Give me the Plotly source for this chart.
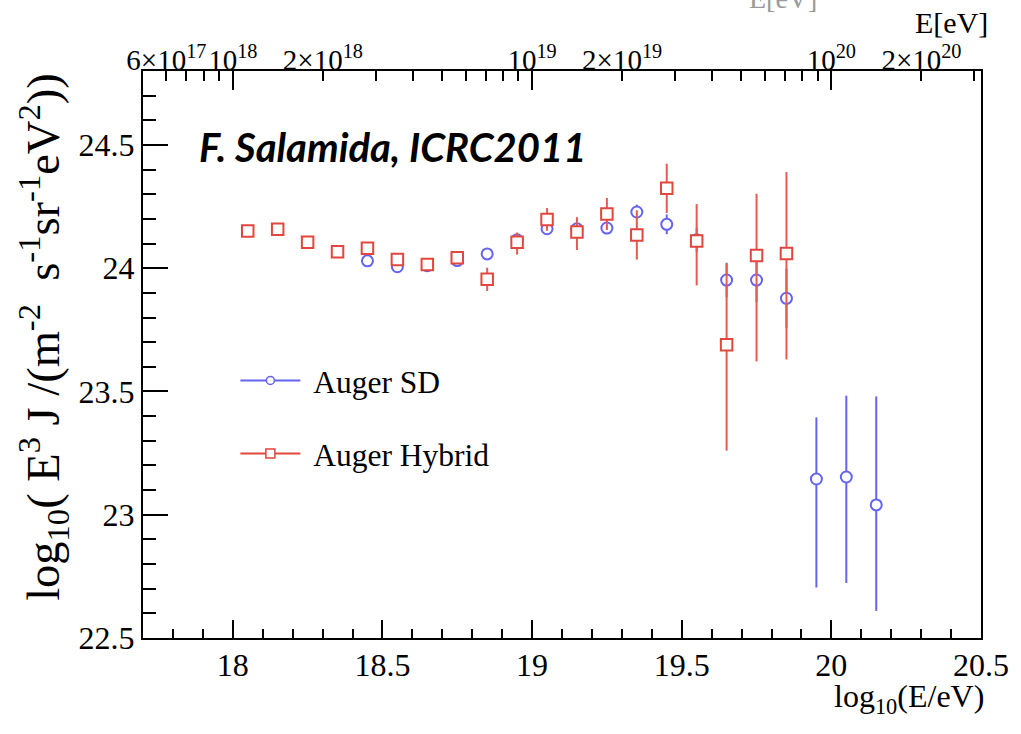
import numpy as np
import plotly.graph_objects as go

# ---------------- data ----------------
sd_x = [18.45, 18.55, 18.65, 18.75, 18.85, 18.95, 19.05, 19.15, 19.25, 19.35,
        19.45, 19.55, 19.65, 19.75, 19.85, 19.95, 20.05, 20.15]
sd_y = [24.030, 24.006, 24.010, 24.031, 24.058, 24.115, 24.160, 24.160, 24.163, 24.228,
        24.178, 24.115, 23.952, 23.952, 23.878, 23.145, 23.153, 23.040]
sd_err_up = [0.010, 0.010, 0.010, 0.010, 0.015, 0.015, 0.020, 0.020, 0.025, 0.030,
             0.040, 0.050, 0.070, 0.090, 0.120, 0.250, 0.330, 0.440]
sd_err_down = [0.010, 0.010, 0.010, 0.010, 0.015, 0.015, 0.020, 0.020, 0.025, 0.030,
               0.040, 0.050, 0.070, 0.090, 0.120, 0.440, 0.430, 0.430]

hyb_x = [18.05, 18.15, 18.25, 18.35, 18.45, 18.55, 18.65, 18.75, 18.85, 18.95,
         19.05, 19.15, 19.25, 19.35, 19.45, 19.55, 19.65, 19.75, 19.85]
hyb_y = [24.151, 24.158, 24.105, 24.067, 24.081, 24.035, 24.015, 24.042, 23.955, 24.105,
         24.198, 24.147, 24.220, 24.135, 24.324, 24.110, 23.690, 24.052, 24.060]
hyb_err_up = [0.010, 0.010, 0.010, 0.010, 0.012, 0.015, 0.020, 0.025, 0.047, 0.040,
              0.046, 0.060, 0.065, 0.100, 0.100, 0.150, 0.330, 0.250, 0.330]
hyb_err_down = [0.010, 0.010, 0.010, 0.010, 0.012, 0.015, 0.020, 0.025, 0.047, 0.050,
                0.046, 0.073, 0.065, 0.100, 0.100, 0.180, 0.430, 0.430, 0.430]

top_major_E = [1e18, 1e19, 1e20]
top_major_text = ["10<sup>18</sup>", "10<sup>19</sup>", "10<sup>20</sup>"]
top_mid_E = [6e17, 2e18, 2e19, 2e20]
top_mid_text = ["6×10<sup>17</sup>", "2×10<sup>18</sup>", "2×10<sup>19</sup>", "2×10<sup>20</sup>"]
top_minor_E = [7e17, 8e17, 9e17,
               3e18, 4e18, 5e18, 6e18, 7e18, 8e18, 9e18,
               3e19, 4e19, 5e19, 6e19, 7e19, 8e19, 9e19,
               3e20]

x_ticks = [18, 18.5, 19, 19.5, 20, 20.5]
y_ticks = [22.5, 23, 23.5, 24, 24.5]

# ---------------- style ----------------
RED = "#e2463c"
RED_BAR = "#e85a50"
BLUE = "#6464f0"
SERIF = "Liberation Serif"

fig = go.Figure()

fig.add_trace(go.Scatter(
    x=sd_x, y=sd_y, mode="markers", showlegend=False,
    marker=dict(symbol="circle", size=11, color="white", line=dict(color=BLUE, width=2)),
    error_y=dict(type="data", array=sd_err_up, arrayminus=sd_err_down,
                 color=BLUE, thickness=2, width=0),
))
fig.add_trace(go.Scatter(
    x=hyb_x, y=hyb_y, mode="markers", showlegend=False,
    marker=dict(symbol="square", size=11.5, color="white", line=dict(color=RED, width=2)),
    error_y=dict(type="data", array=hyb_err_up, arrayminus=hyb_err_down,
                 color=RED_BAR, thickness=2, width=0),
))

# legend entries (line + marker, ROOT style)
fig.add_trace(go.Scatter(
    x=[None], y=[None], mode="lines+markers", name="\u00a0Auger SD", legendgroup="a",
    line=dict(color=BLUE, width=2),
    marker=dict(symbol="circle", size=8, color="white", line=dict(color=BLUE, width=1.5)),
))
fig.add_trace(go.Scatter(
    x=[None], y=[None], mode="lines+markers", name="\u00a0Auger Hybrid", legendgroup="b",
    line=dict(color=RED, width=2),
    marker=dict(symbol="square", size=9, color="white", line=dict(color=RED, width=1.5)),
))

# invisible traces to activate the top axes
fig.add_trace(go.Scatter(x=[None], y=[None], xaxis="x2", showlegend=False, hoverinfo="skip"))
fig.add_trace(go.Scatter(x=[None], y=[None], xaxis="x3", showlegend=False, hoverinfo="skip"))

XR = [17.7, 20.5]
YR = [22.5, 24.8]

fig.update_layout(
    width=1021, height=734,
    margin=dict(l=143, r=33, t=71, b=96),
    paper_bgcolor="white", plot_bgcolor="white",
    font=dict(family=SERIF, color="black"),
    xaxis=dict(
        range=XR, tickmode="array", tickvals=x_ticks,
        ticktext=[f"{v:g}" for v in x_ticks],
        ticks="inside", ticklen=18, tickwidth=1.5, tickcolor="black",
        minor=dict(dtick=0.1, tick0=0, ticks="inside", ticklen=9, tickwidth=1.5, tickcolor="black"),
        showline=True, linecolor="black", linewidth=2, mirror=True,
        showgrid=False, zeroline=False,
        tickfont=dict(family=SERIF, size=32, color="black"),
        ticklabelstandoff=-2,
    ),
    yaxis=dict(
        range=YR, tickmode="array", tickvals=y_ticks,
        ticktext=[f"{v:g}" for v in y_ticks],
        ticks="inside", ticklen=25, tickwidth=1.5, tickcolor="black",
        minor=dict(dtick=0.1, tick0=0, ticks="inside", ticklen=13, tickwidth=1.5, tickcolor="black"),
        showline=True, linecolor="black", linewidth=2, mirror=True,
        showgrid=False, zeroline=False,
        tickfont=dict(family=SERIF, size=32, color="black"),
    ),
    xaxis2=dict(
        overlaying="x", side="top", anchor="y", range=XR,
        tickmode="array", tickvals=list(np.log10(top_major_E)), ticktext=top_major_text,
        ticks="inside", ticklen=19, tickwidth=1.5, tickcolor="black",
        minor=dict(tickmode="array", tickvals=list(np.log10(top_minor_E)),
                   ticks="inside", ticklen=10, tickwidth=1.5, tickcolor="black"),
        showline=False, showgrid=False, zeroline=False,
        tickfont=dict(family=SERIF, size=29, color="black"),
        ticklabelstandoff=-6,
    ),
    xaxis3=dict(
        overlaying="x", side="top", anchor="y", range=XR,
        tickmode="array", tickvals=list(np.log10(top_mid_E)), ticktext=top_mid_text,
        ticks="inside", ticklen=10, tickwidth=1.5, tickcolor="black",
        showline=False, showgrid=False, zeroline=False,
        tickfont=dict(family=SERIF, size=29, color="black"),
        ticklabelstandoff=-6,
    ),
    legend=dict(
        x=(237 - 143) / 845 - 0.001, y=0.5 + 1 / 567, xanchor="left", yanchor="top",
        font=dict(family=SERIF, size=31.5, color="black"),
        bgcolor="rgba(0,0,0,0)", itemwidth=60, tracegroupgap=29,
        traceorder="grouped",
    ),
    annotations=[
        dict(text="F. Salamida, ICRC2011", xref="paper", yref="paper",
             x=(395 - 143) / 845, y=(638 - 147) / 567, xanchor="center", yanchor="middle",
             showarrow=False,
             font=dict(family="Lato", size=40, weight="bold", style="italic", color="black")),
        dict(text="log<sub>10</sub>( E<sup>3</sup> J /(m<sup>-2</sup>  s<sup>-1</sup>sr<sup>-1</sup>eV<sup>2</sup>))",
             xref="paper", yref="paper", x=(42 - 143) / 845, y=1.0,
             xanchor="center", yanchor="top", textangle=-90, showarrow=False,
             font=dict(family=SERIF, size=46.5, color="black")),
        dict(text="log<sub>10</sub>(E/eV)", xref="paper", yref="paper",
             x=1.0 + 5 / 845, y=(638 - 698) / 567, xanchor="right", yanchor="middle",
             showarrow=False, font=dict(family=SERIF, size=32, color="black")),
        dict(text="E[eV]", xref="paper", yref="paper",
             x=1.0 + 9 / 845, y=(638 - 22) / 567, xanchor="right", yanchor="middle",
             showarrow=False, font=dict(family=SERIF, size=30, color="black")),
        dict(text="E[eV]", xref="paper", yref="paper",
             x=(825 - 143) / 845, y=(638 - 16) / 567, xanchor="right", yanchor="bottom",
             showarrow=False, font=dict(family=SERIF, size=28, color="#9a9a9a")),
    ],
)

fig.write_html("out.html")
